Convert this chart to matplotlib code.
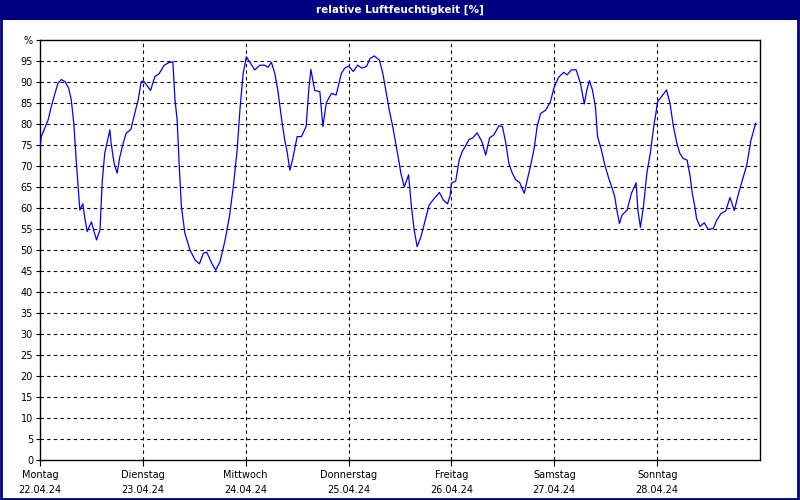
import matplotlib
matplotlib.use("Agg")
import matplotlib.pyplot as plt
from matplotlib.patches import Rectangle
import numpy as np

# ---- data ----
tage = ["Montag", "Dienstag", "Mittwoch", "Donnerstag", "Freitag", "Samstag", "Sonntag"]
daten = ["22.04.24", "23.04.24", "24.04.24", "25.04.24", "26.04.24", "27.04.24", "28.04.24"]

# hours since Monday 22.04.24 00:00
stunden = [
    0, 0.3, 1.1, 1.9, 2.6, 3.4, 4.2, 5, 5.9, 6.7, 7.3, 7.9, 8.5, 8.9, 9.3, 10, 10.4, 11, 12, 12.6,
    13.2, 14, 14.5, 15.1, 16.3, 16.6, 17.3, 18, 18.6, 19.4, 20.1, 21.2, 22.1, 22.9, 23.6,
    24.1, 25.8, 26.8, 27.8, 29, 30, 31, 31.5, 32, 32.5, 33, 33.8, 35, 36.2, 37.2, 38.1, 38.9,
    40.1, 41, 42, 43.2, 44.2, 45.1, 46, 46.7, 47.4,
    48.15, 48.9, 50.1, 51.3, 52.4, 53.2, 54, 54.8, 55.5, 56.3, 57.1, 57.6, 58.3, 59, 60, 61,
    62.1, 62.7, 63.2, 63.5, 64.1, 65.3, 66, 66.8, 68, 69.1, 70.3, 71.1,
    72, 73.1, 74.1, 75.1, 76.2, 77, 78, 79.2, 80, 80.7, 81.5, 82.3, 83, 83.7, 84.2, 85, 86,
    86.6, 87.3, 88, 88.9, 89.9, 90.8, 92, 93.2, 94.1, 95.1,
    95.7, 96, 97, 97.8, 98.5, 99.3, 100.1, 101, 102, 103.1, 104, 104.9, 105.9, 107.1, 107.9,
    108.7, 109.4, 110.2, 111, 111.9, 113, 113.7, 114.5, 115.3, 116, 116.8, 118, 119.1, 119.9,
    120.2, 121, 122.2, 123, 124, 125.1, 126.1, 127, 127.6, 128.2, 128.9, 129.6, 130.1, 131,
    131.8, 132.7, 133.5, 134.1, 134.6, 135.2, 135.8, 137, 138, 139.1, 139.5, 140.1, 140.8,
    141.6, 142.4, 143.2, 143.7,
    144.1, 145, 146.2, 147, 147.8, 148.6, 149.3, 150.1, 151, 151.7, 152.2, 152.8, 153.2, 154,
    155, 155.9, 157.1, 157.9, 158.9, 160, 161, 162, 163, 163.9, 164.9, 165.9, 167,
]
feuchte = [
    74.2, 77, 79, 81, 84, 87, 89.7, 90.6, 90, 88.5, 85.7, 80, 70.6, 65, 59.5, 61, 58, 54.4, 56.7, 54.4,
    52.4, 54.8, 66, 73, 78.6, 75.4, 70.6, 68.3, 72, 75.4, 77.8, 78.7, 82.5, 85.7, 90,
    90.3, 88, 91.3, 92, 94, 94.6, 94.8, 85.7, 81, 69.8, 60.3, 54, 50, 47.6, 46.7, 49.2, 49.5,
    46.8, 45.2, 47.2, 52.4, 58, 65, 73.8, 84, 92,
    96, 94.8, 92.9, 94, 94, 93.5, 94.7, 92, 88, 81.7, 76.2, 73.8, 69, 71.8, 77, 77,
    79.4, 88, 93, 91.3, 88, 87.7, 79.4, 85, 87.3, 86.9, 92, 93.3,
    93.8, 92.5, 94, 93.3, 93.7, 95.6, 96.2, 95.2, 92, 88, 83.3, 79.4, 75.4, 71.4, 68.3, 65, 67.9,
    61, 54.8, 50.8, 53.2, 57.1, 60.7, 62.3, 63.7, 61.9, 61,
    63, 65.9, 66.4, 71.4, 73.4, 74.8, 76.3, 76.7, 77.9, 75.8, 72.6, 76.7, 77.4, 79.6, 79.4,
    75.4, 70.6, 68.3, 66.7, 66.1, 63.5, 66.7, 70.2, 74.2, 79.4, 82.5, 83.3, 85.3, 88.5,
    89.3, 91.1, 92.3, 91.7, 92.9, 92.9, 89.7, 84.8, 88.1, 90.3, 88.1, 84.1, 77, 73.8,
    70.2, 67.1, 64.7, 62.7, 59.5, 56.3, 58.3, 59.5, 63.5, 66, 59.5, 55.4, 60.3,
    68.3, 73, 79.4, 82.5,
    85.3, 86.5, 88.1, 84.9, 79.4, 75.4, 73, 71.8, 71.4, 67.5, 63.5, 60.3, 57.5, 55.6,
    56.5, 54.9, 55.1, 57.1, 58.7, 59.3, 62.5, 59.4, 63.5, 66.7, 70.2, 76.2, 80.2,
]
titel = "relative Luftfeuchtigkeit [%]"

# ---- figure ----
navy = "#000080"
fig = plt.figure(figsize=(8, 5), dpi=100, facecolor="white")

# title bar and frame
fig.patches.append(Rectangle((0, 0.96), 1, 0.04, transform=fig.transFigure,
                             facecolor=navy, edgecolor="none", zorder=0))
fig.patches.append(Rectangle((0.001, 0.002), 0.997, 0.996, transform=fig.transFigure,
                             facecolor="none", edgecolor=navy, linewidth=2.0, zorder=0))
fig.text(0.5, 0.981, titel, color="white", fontsize=7.5, fontweight="bold",
         ha="center", va="center", family="DejaVu Sans")

ax = fig.add_axes([0.05, 0.08, 0.90, 0.84])
ax.set_facecolor("white")
ax.plot(stunden, feuchte, color="#0000FF", linewidth=0.9, zorder=3)

ax.set_xlim(0, 168)
ax.set_ylim(0, 100)

yt = list(range(0, 101, 5))
ax.set_yticks(yt)
ax.set_yticklabels([str(v) for v in yt[:-1]] + ["%"])
xt = [24 * i for i in range(7)]
ax.set_xticks(xt)
ax.set_xticklabels([f"{t}\n{d}" for t, d in zip(tage, daten)], linespacing=1.6)

ax.tick_params(axis="both", labelsize=7, colors="black", width=0.8)
ax.tick_params(axis="y", length=3, pad=2)
ax.tick_params(axis="x", length=4, pad=3)

for v in yt[1:-1]:
    ax.axhline(v, color="black", linewidth=0.8, linestyle=(0, (3, 3)), zorder=1)
for h in xt[1:]:
    ax.axvline(h, color="black", linewidth=0.8, linestyle=(0, (3, 3)), zorder=1)

for s in ax.spines.values():
    s.set_color("black")
    s.set_linewidth(1.0)

fig.savefig("out.png", dpi=100, facecolor="white")
